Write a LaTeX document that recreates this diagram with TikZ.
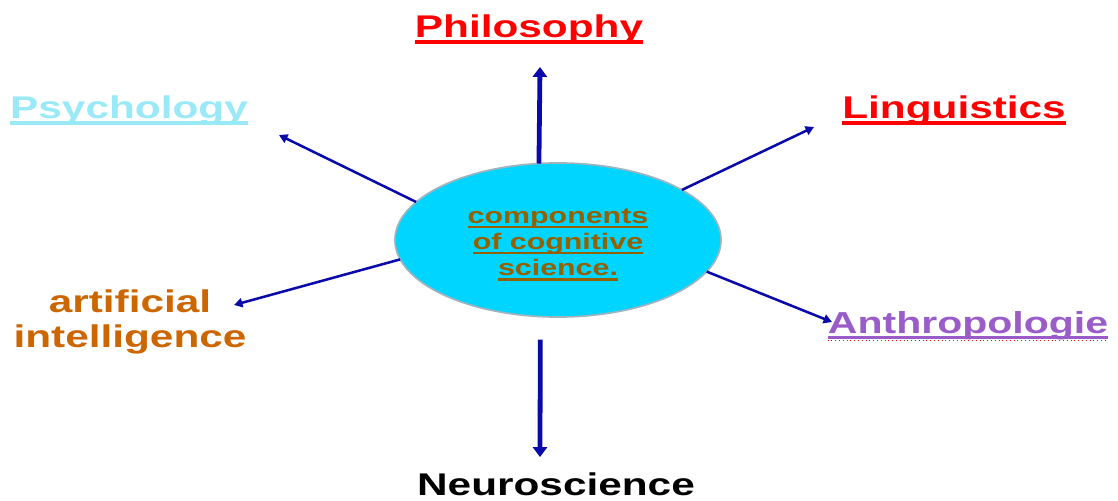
\documentclass[tikz,border=0pt]{standalone}
\usepackage{fontspec}
\setmainfont{Liberation Sans}[FakeStretch=1.35]
\usepackage{xcolor}
\usepackage{tikz}
\usetikzlibrary{shapes,arrows.meta,positioning,calc}

\definecolor{corecyan}{HTML}{00D5FF}
\definecolor{coreedge}{HTML}{A0B4C0}
\definecolor{corebrown}{HTML}{936100}
\definecolor{arrowblue}{HTML}{0A0AAA}
\definecolor{philred}{HTML}{FF0000}
\definecolor{psycyan}{HTML}{99E9F7}
\definecolor{aibrown}{HTML}{CC6600}
\definecolor{anthpurple}{HTML}{9A5CC8}

\newcommand{\uline}[1]{\setbox0=\hbox{#1}\leavevmode\rlap{\raisebox{-0.21em}{\rule{\wd0}{0.1em}}}\box0}

\begin{document}
\begin{tikzpicture}[
    x=0.025cm, y=-0.025cm,
    core/.style={ellipse, draw=coreedge, line width=1.2pt, fill=corecyan, minimum width=8.15cm, minimum height=3.85cm, inner sep=0pt, outer sep=0pt, align=center, text=corebrown, font=\fontsize{16}{18.7}\selectfont\bfseries},
    topic/.style={inner sep=0pt, anchor=base, font=\fontsize{22.3}{24.2}\selectfont\bfseries},
    arrow/.style={-{Triangle[length=6pt, width=6.5pt]}, line width=1.8pt, draw=arrowblue},
    varrow/.style={-{Triangle[length=7pt, width=10pt]}, line width=3.4pt, draw=arrowblue}
]
    \useasboundingbox (0,0) rectangle (1118,500);

    \node[core] (core) at (558,240) {\rule{0pt}{17pt}\uline{components}\\\uline{of cognitive}\\\uline{science.}};

    \node[topic, text=philred] (phil) at (529,37) {\uline{Philosophy}};
    \node[topic, text=psycyan] (psych) at (129,118) {\uline{Psychology}};
    \node[topic, text=philred] (ling) at (954,118) {\uline{Linguistics}};
    \node[topic, text=aibrown, align=center] (ai) at (130,347) {artificial\\intelligence};
    \node[topic, text=anthpurple, font=\fontsize{21.6}{24}\selectfont\bfseries] (anth) at (968,333) {\uline{Anthropologie}};
    \node[topic] (neuro) at (556,495) {Neuroscience};
    \draw[red, dotted, line width=0.7pt] ([yshift=-5.4pt]anth.base west) -- ([yshift=-5.4pt]anth.base east);

    % arrow tips
    \coordinate (phil-tip) at (540,67);
    \coordinate (neuro-tip) at (540,457);
    \coordinate (psych-tip) at (279,135);
    \coordinate (ling-tip) at (814,127);
    \coordinate (ai-tip) at (234,305);
    \coordinate (anth-tip) at (832,322);

    \draw[varrow] (core.104) -- (phil-tip);
    \draw[varrow, shorten <=0.575cm] (core.257) -- (neuro-tip);
    \draw[arrow] (core.165) -- (psych-tip);
    \draw[arrow] (core.22) -- (ling-tip);
    \draw[arrow] (core.187) -- (ai-tip);
    \draw[arrow] (core.348) -- (anth-tip);
\end{tikzpicture}
\end{document}
